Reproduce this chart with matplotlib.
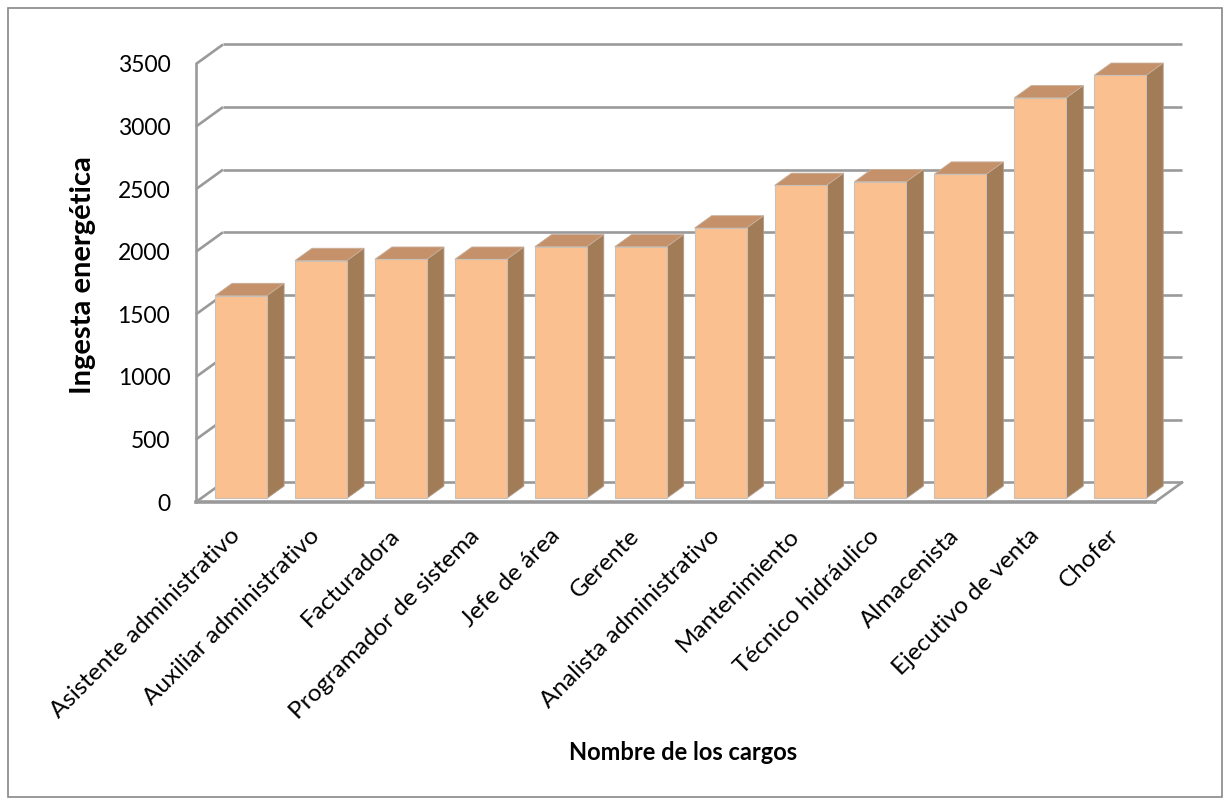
import numpy as np
import matplotlib
matplotlib.use("Agg")
import matplotlib.pyplot as plt
from matplotlib.patches import Polygon, Rectangle
from matplotlib.transforms import ScaledTranslation

plt.rcParams['font.family'] = ['Lato', 'DejaVu Sans']

cargos = ["Asistente administrativo", "Auxiliar administrativo", "Facturadora",
          "Programador de sistema", "Jefe de área", "Gerente",
          "Analista administrativo", "Mantenimiento", "Técnico hidráulico",
          "Almacenista", "Ejecutivo de venta", "Chofer"]
ingesta = [1620, 1900, 1910, 1910, 2010, 2010, 2160, 2500, 2530, 2590, 3200, 3380]
y_ticks = [0, 500, 1000, 1500, 2000, 2500, 3000, 3500]

W, H = 1230, 805
fig = plt.figure(figsize=(W / 100, H / 100), dpi=100)
fig.patch.set_facecolor("white")

# front plane of the 3-D box, in pixels
x0, x1 = 196, 1155
y_top, y_bot = 64, 502
ax = fig.add_axes([x0 / W, (H - y_bot) / H, (x1 - x0) / W, (y_bot - y_top) / H])
n = len(cargos)
ax.set_xlim(-0.5, n - 0.5)
ax.set_ylim(0, 3500)
for s in ax.spines.values():
    s.set_visible(False)

# depth offset of the box (27 px right, 19.5 px up)
px_per_cat = (x1 - x0) / n
px_per_val = (y_bot - y_top) / 3500
DX = 27 / px_per_cat
DY = 19.5 / px_per_val

grid_c = "#9a9a9a"
lw = 1.9
xl, xr = -0.5, n - 0.5
for t in y_ticks:
    ax.plot([xl, xl + DX], [t, t + DY], color=grid_c, lw=lw, clip_on=False, zorder=1,
            solid_capstyle="butt")
    ax.plot([xl + DX, xr + DX], [t + DY, t + DY], color=grid_c, lw=lw, clip_on=False,
            zorder=1, solid_capstyle="butt")
# left axis and floor edges
ax.plot([xl, xl], [0, 3500], color=grid_c, lw=lw, clip_on=False, zorder=1)
ax.plot([xl, xr], [0, 0], color=grid_c, lw=2.6, clip_on=False, zorder=1)
ax.plot([xr, xr + DX], [0, DY], color=grid_c, lw=lw, clip_on=False, zorder=1)

# 3-D columns
front_c, side_c, top_c = "#FAC090", "#A27B57", "#C4916A"
bw = 52 / px_per_cat
f0, f1 = 0.19, 0.82
for i, v in enumerate(ingesta):
    l, r = i - bw / 2 + f0 * DX, i + bw / 2 + f0 * DX
    b = f0 * DY
    ddx, ddy = (f1 - f0) * DX, (f1 - f0) * DY
    ax.add_patch(Polygon([(r, b), (r + ddx, b + ddy), (r + ddx, b + ddy + v), (r, b + v)],
                         closed=True, facecolor=side_c, edgecolor="#b09a88", lw=0.6,
                         clip_on=False, zorder=3))
    ax.add_patch(Polygon([(l, b + v), (r, b + v), (r + ddx, b + ddy + v), (l + ddx, b + ddy + v)],
                         closed=True, facecolor=top_c, edgecolor="#c8b09c", lw=0.6,
                         clip_on=False, zorder=3))
    ax.add_patch(Rectangle((l, b), r - l, v, facecolor=front_c, edgecolor="#c9c0b8",
                           lw=0.8, clip_on=False, zorder=4))

ax.set_yticks(y_ticks)
ax.set_yticklabels([str(t) for t in y_ticks], fontsize=16.5)
ax.tick_params(axis="y", length=0, pad=18.5)
ax.set_xticks(range(n))
ax.set_xticklabels(cargos, rotation=45, ha="right", va="center",
                   rotation_mode="anchor", fontsize=17.5)
ax.tick_params(axis="x", length=0, pad=22)
shift = ScaledTranslation(0.5 / 72, 0, fig.dpi_scale_trans)
for lab in ax.get_xticklabels():
    lab.set_transform(lab.get_transform() + shift)

fig.text(83 / W, 1 - 275 / H, "Ingesta energética", rotation=90, ha="center",
         va="center", fontsize=21, fontweight="bold")
fig.text(683 / W, 1 - 752 / H, "Nombre de los cargos", ha="center", va="center",
         fontsize=17, fontweight="bold")

# outer chart border
fig.patches.append(Rectangle((8 / W, 8 / H), 1 - 16 / W, 1 - 16 / H,
                             transform=fig.transFigure, fill=False,
                             edgecolor="#888888", lw=1.2))

fig.savefig("out.png", dpi=100)
